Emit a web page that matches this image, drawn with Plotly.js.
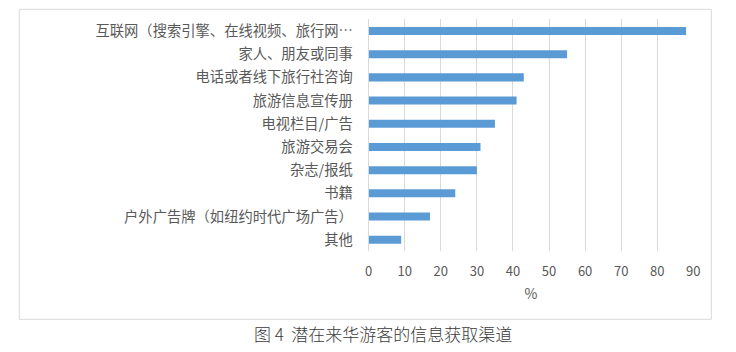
<!DOCTYPE html>
<html>
<head>
<meta charset="utf-8">
<script src="https://cdn.plot.ly/plotly-3.0.1.min.js"></script>
<style>html,body{margin:0;padding:0;background:#fff;}#chart{width:736px;height:352px;}</style>
</head>
<body>
<div id="chart"></div>
<script>
const categories = [
  "互联网（搜索引擎、在线视频、旅行网…",
  "家人、朋友或同事",
  "电话或者线下旅行社咨询",
  "旅游信息宣传册",
  "电视栏目/广告",
  "旅游交易会",
  "杂志/报纸",
  "书籍",
  "户外广告牌（如纽约时代广场广告）",
  "其他"
];
const values = [88, 55, 43, 41, 35, 31, 30, 24, 17, 9];
const xTickValues = [0, 10, 20, 30, 40, 50, 60, 70, 80, 90];
const xAxisTitle = "%";
const chartTitle = "图 4  潜在来华游客的信息获取渠道";

const W = 736, H = 352;
const font = "'Noto Sans CJK SC', 'Microsoft YaHei', sans-serif";

const trace = {
  type: "bar",
  orientation: "h",
  x: values,
  y: categories,
  marker: {color: "#5b9bd5"},
  hoverinfo: "x+y"
};

const layout = {
  width: W, height: H,
  margin: {l: 0, r: 0, t: 0, b: 0},
  paper_bgcolor: "#ffffff",
  plot_bgcolor: "#ffffff",
  showlegend: false,
  bargap: 0.655,
  font: {family: font, color: "#595959"},
  xaxis: {
    domain: [368.7 / W, 693.3 / W],
    range: [0, 90],
    tickvals: xTickValues,
    showgrid: true,
    gridcolor: "#d9d9d9",
    gridwidth: 1,
    zeroline: false,
    showline: false,
    ticks: "outside",
    ticklen: 8,
    tickcolor: "rgba(0,0,0,0)",
    tickfont: {size: 13, color: "#595959", family: font},
    title: {text: xAxisTitle, font: {size: 14, color: "#595959", family: font}, standoff: 10},
    fixedrange: true
  },
  yaxis: {
    domain: [1 - 251.3 / H, 1 - 19.4 / H],
    autorange: "reversed",
    type: "category",
    showgrid: false,
    showline: true,
    linecolor: "#d9d9d9",
    linewidth: 1,
    ticks: "outside",
    ticklen: 12,
    tickcolor: "rgba(0,0,0,0)",
    tickfont: {size: 14.3, color: "#595959", family: font},
    fixedrange: true
  },
  shapes: [{
    type: "rect", xref: "paper", yref: "paper",
    x0: 19.3 / W, x1: 711.3 / W,
    y0: 1 - 319.3 / H, y1: 1 - 9.3 / H,
    line: {color: "#d9d9d9", width: 1},
    fillcolor: "rgba(0,0,0,0)",
    layer: "below"
  }],
  annotations: [{
    xref: "paper", yref: "paper",
    x: 382.5 / W, y: 1 - 333 / H,
    xanchor: "center", yanchor: "middle",
    text: chartTitle,
    showarrow: false,
    font: {size: 17, color: "#3a3a3a", family: font, weight: 300}
  }]
};

Plotly.newPlot("chart", [trace], layout, {displayModeBar: false, staticPlot: true});
</script>
</body>
</html>
